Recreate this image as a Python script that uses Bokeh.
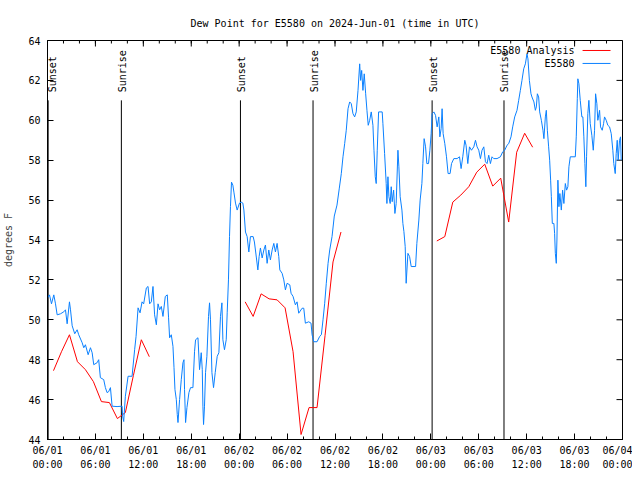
import math
from bokeh.plotting import figure
from bokeh.models import LinearAxis, FixedTicker, Range1d, ColumnDataSource, Label
from bokeh.embed import file_html
from bokeh.resources import INLINE

# ---------------- data (hours since 2024-06-01 00:00 UTC, degrees F) ----------------
obs_hours = [0.0, 0.25, 0.5, 0.79, 1.0, 1.21, 1.62, 2.04, 2.25, 2.46, 2.75, 2.88, 3.09, 3.41, 3.71, 3.91,
             4.34, 4.54, 4.75, 5.09, 5.38, 5.59, 5.79, 6.21, 6.41, 6.62, 7.04, 7.25, 7.46, 7.66, 7.88,
             8.09, 8.71, 9.34, 9.41, 9.54, 9.75, 10.09, 10.59, 10.91, 11.09, 11.34, 11.59, 11.84, 12.04,
             12.38, 12.59, 12.79, 13.0, 13.21, 13.41, 13.63, 13.84, 14.04, 14.25, 14.46, 14.75, 15.0,
             15.16, 15.29, 15.5, 15.71, 15.84, 15.96, 16.13, 16.25, 16.34, 16.54, 16.75, 16.96, 17.09,
             17.16, 17.29, 17.46, 17.71, 17.91, 18.21, 18.41, 18.54, 18.84, 19.04, 19.25, 19.38, 19.46,
             19.54, 19.66, 19.79, 19.96, 20.16, 20.29, 20.41, 20.59, 20.79, 21.0, 21.25, 21.46, 21.66,
             21.84, 21.96, 22.16, 22.38, 22.5, 22.66, 22.79, 22.91, 23.04, 23.21, 23.34, 23.54, 23.75,
             24.04, 24.25, 24.46, 24.59, 24.79, 25.0, 25.21, 25.41, 25.75, 25.91, 26.16, 26.34, 26.5,
             26.66, 26.88, 27.09, 27.29, 27.5, 27.71, 27.91, 28.13, 28.34, 28.54, 28.75, 28.96, 29.09,
             29.38, 29.59, 29.79, 30.0, 30.34, 30.5, 30.75, 31.04, 31.25, 31.46, 31.88, 32.09, 32.29,
             32.71, 33.0, 33.13, 33.34, 33.75, 34.09, 34.29, 34.5, 34.71, 34.91, 35.13, 35.34, 35.63,
             35.91, 36.25, 36.54, 36.79, 37.0, 37.21, 37.41, 37.63, 37.84, 38.04, 38.25, 38.46, 38.66,
             38.88, 39.09, 39.21, 39.34, 39.5, 39.66, 39.84, 40.0, 40.16, 40.34, 40.54, 40.75, 40.88,
             41.04, 41.16, 41.29, 41.46, 41.91, 42.0, 42.21, 42.41, 42.5, 42.63, 42.75, 42.91, 43.04,
             43.16, 43.34, 43.5, 43.66, 43.88, 44.0, 44.16, 44.38, 44.5, 44.63, 44.79, 44.91, 45.13,
             45.34, 45.54, 46.09, 46.25, 46.5, 46.66, 46.88, 47.0, 47.16, 47.34, 47.5, 47.71, 47.88,
             48.04, 48.16, 48.38, 48.59, 48.79, 49.0, 49.13, 49.29, 49.41, 49.54, 49.75, 49.96, 50.16,
             50.41, 50.59, 50.88, 51.29, 51.59, 51.79, 52.0, 52.25, 52.41, 52.63, 52.84, 53.09, 53.38,
             53.59, 53.79, 54.0, 54.21, 54.41, 54.63, 54.84, 55.04, 55.25, 55.46, 55.66, 55.88, 56.29,
             56.71, 57.0, 57.25, 57.54, 57.75, 58.04, 58.25, 58.5, 58.79, 59.0, 59.21, 59.41, 59.63,
             59.84, 60.04, 60.16, 60.34, 60.54, 60.66, 60.91, 61.09, 61.21, 61.34, 61.5, 61.63, 61.84,
             62.04, 62.16, 62.34, 62.46, 62.59, 62.75, 62.88, 63.0, 63.09, 63.21, 63.41, 63.5, 63.59,
             63.71, 63.79, 63.91, 64.04, 64.16, 64.34, 64.5, 64.66, 64.84, 65.0, 65.16, 65.29, 65.46,
             66.09, 66.21, 66.34, 66.41, 66.54, 66.71, 66.91, 67.04, 67.16, 67.29, 67.41, 67.5, 67.66,
             67.79, 67.96, 68.16, 68.34, 68.5, 68.63, 68.79, 68.91, 69.13, 69.25, 69.46, 69.63, 69.75,
             69.96, 70.16, 70.38, 70.59, 70.79, 70.91, 71.09, 71.21, 71.34, 71.46, 71.63, 71.75, 71.84]
obs_dewpt = [51.1, 51.25, 50.8, 51.25, 50.8, 50.25, 50.3, 50.4, 50.5, 49.8, 50.9, 50.5, 49.7, 49.3, 49.5, 49.25,
             48.85, 48.6, 48.75, 48.25, 48.6, 48.35, 47.75, 47.85, 48.0, 47.1, 47.0, 46.6, 46.35, 46.4, 46.6,
             45.67, 45.65, 45.67, 45.17, 44.9, 46.17, 47.17, 47.17, 48.5, 49.17, 50.6, 50.35, 50.9, 50.8,
             51.6, 51.67, 50.8, 50.9, 51.67, 50.25, 49.75, 50.8, 50.5, 50.67, 50.17, 51.17, 51.25,
             50.1, 49.1, 49.25, 48.67, 47.6, 46.5, 46.0, 45.25, 44.85, 46.0, 47.0, 47.85, 48.0,
             46.5, 44.85, 45.6, 46.35, 46.6, 46.6, 48.4, 49.0, 49.1, 47.5, 48.35, 47.5, 45.67,
             44.75, 45.67, 47.35, 48.17, 50.17, 50.85, 50.0, 47.35, 46.6, 47.35, 48.17, 48.35, 50.17,
             50.85, 49.0, 48.5, 49.0, 50.35, 52.0, 54.17, 55.67, 56.9, 56.75, 56.4, 55.85, 55.5,
             55.85, 55.9, 55.85, 55.5, 54.4, 54.17, 53.4, 54.17, 54.17, 53.9, 53.1, 52.5, 53.17,
             53.6, 53.1, 53.5, 53.75, 52.83, 53.5, 53.0, 53.5, 53.83, 53.4, 53.83, 53.17, 52.5,
             52.33, 52.0, 51.5, 51.83, 51.75, 51.33, 51.17, 50.75, 50.9, 50.33, 50.58, 50.58, 49.83,
             49.9, 49.83, 49.25, 48.9, 48.9, 49.17, 49.25, 50.0, 50.83, 51.83, 52.83, 53.5, 54.17,
             55.2, 55.75, 56.6, 57.33, 58.17, 58.83, 59.5, 60.58, 60.92, 60.83, 60.33, 60.17, 60.42,
             61.5, 62.83, 62.0, 62.5, 61.5, 62.33, 61.33, 60.5, 59.75, 60.0, 60.42, 59.75, 58.5,
             57.17, 56.83, 58.5, 60.42, 60.42, 59.83, 58.33, 56.83, 55.83, 57.17, 56.17, 55.83, 56.67,
             55.92, 56.5, 55.33, 55.83, 58.5, 57.67, 56.17, 55.5, 54.83, 54.42, 53.67, 51.83, 53.33,
             53.17, 52.67, 52.67, 53.83, 55.0, 56.0, 56.83, 57.83, 59.08, 58.67, 57.83, 57.83, 58.5,
             59.33, 60.33, 60.42, 60.25, 59.67, 60.17, 59.17, 59.58, 60.58, 59.33, 58.83, 58.17, 57.33,
             57.33, 57.83, 58.08, 58.08, 58.17, 57.58, 58.17, 59.0, 58.75, 57.83, 58.67, 58.5, 58.67,
             59.0, 58.67, 58.5, 58.08, 58.5, 58.67, 57.92, 57.83, 58.25, 57.83, 58.17, 58.08, 58.08,
             58.17, 58.42, 58.5, 58.75, 58.83, 59.17, 59.67, 60.17, 60.5, 61.0, 61.5, 62.0, 62.58,
             62.83, 63.33, 63.08, 62.0, 61.33, 61.17, 60.92, 60.5, 60.67, 61.33, 61.17, 60.42, 60.0,
             59.5, 59.08, 60.17, 60.5, 59.5, 58.67, 58.0, 57.0, 56.17, 54.83, 54.83, 54.33, 53.33,
             52.83, 54.0, 57.0, 55.67, 56.33, 55.5, 56.5, 55.83, 56.83, 56.5, 56.67, 57.67, 58.17,
             58.17, 59.17, 61.08, 62.08, 61.83, 61.0, 60.17, 60.17, 59.17, 57.83, 56.67, 58.17, 60.33,
             61.0, 59.83, 59.25, 58.5, 59.5, 61.33, 60.83, 60.0, 60.5, 59.67, 59.5, 59.83, 60.17,
             60.0, 59.75, 59.67, 59.33, 58.5, 57.83, 57.33, 58.33, 59.0, 58.0, 59.0, 59.17, 58.0]

nan = float("nan")
ana_hours = [0.75, 1.75, 2.75, 3.75, 4.75, 5.75, 6.75, 7.75, 8.75, 9.75, 10.75, 11.75, 12.75, nan,
             24.75, 25.75, 26.75, 27.75, 28.75, 29.75, 30.75, 31.75, 32.75, 33.75, 34.75, 35.75, 36.75, nan,
             48.75, 49.75, 50.75, 51.75, 52.75, 53.75, 54.75, 55.75, 56.75, 57.75, 58.75, 59.75, 60.75]
ana_dewpt = [47.45, 48.4, 49.25, 47.9, 47.5, 46.9, 45.9, 45.85, 45.05, 45.35, 47.2, 49.0, 48.15, nan,
             50.9, 50.17, 51.3, 51.05, 51.0, 50.6, 48.4, 44.25, 45.6, 45.6, 49.2, 52.9, 54.4, nan,
             53.95, 54.17, 55.9, 56.25, 56.67, 57.4, 57.8, 56.7, 57.1, 54.9, 58.4, 59.35, 58.65]

sun_hours = [0.08, 9.25, 24.16, 33.25, 48.16, 57.16]
sun_names = ["Sunset", "Sunrise", "Sunset", "Sunrise", "Sunset", "Sunrise"]

x_tick_hours = [0, 6, 12, 18, 24, 30, 36, 42, 48, 54, 60, 66, 72]
x_tick_labels = ["06/01\n00:00", "06/01\n06:00", "06/01\n12:00", "06/01\n18:00",
                 "06/02\n00:00", "06/02\n06:00", "06/02\n12:00", "06/02\n18:00",
                 "06/03\n00:00", "06/03\n06:00", "06/03\n12:00", "06/03\n18:00", "06/04\n00:00"]
x_minor_hours = list(range(0, 73, 2))
y_ticks = [44, 46, 48, 50, 52, 54, 56, 58, 60, 62, 64]

legend_names = ["E5580 Analysis", "E5580"]
RED = "#ff0000"
BLUE = "#0a80ff"
FONT = "DejaVu Sans Mono"
FS = "10px"

# ---------------- figure ----------------
p = figure(width=632, height=472, output_backend="svg", toolbar_location=None, tools="",
           x_range=Range1d(0, 72), y_range=Range1d(44, 64),
           min_border_left=46, min_border_right=10, min_border_top=40, min_border_bottom=32,
           x_axis_type=None, y_axis_type=None)
p.background_fill_color = "white"
p.border_fill_color = "white"
p.outline_line_color = "black"
p.outline_line_width = 1
p.grid.visible = False

p.title.text = "Dew Point for E5580 on 2024-Jun-01 (time in UTC)"
p.title.align = "center"
p.title.text_font = FONT
p.title.text_font_size = FS
p.title.text_font_style = "normal"
p.title.text_color = "black"
p.title.standoff = 23

def style_axis(ax):
    ax.axis_line_color = "black"
    ax.major_tick_line_color = "black"
    ax.minor_tick_line_color = "black"
    ax.major_tick_in = 6
    ax.major_tick_out = 0
    ax.minor_tick_in = 3
    ax.minor_tick_out = 0
    ax.major_label_text_font = FONT
    ax.major_label_text_color = "black"
    ax.major_label_text_font_size = FS

xb = LinearAxis(ticker=FixedTicker(ticks=x_tick_hours, minor_ticks=x_minor_hours))
style_axis(xb)
xb.major_label_overrides = {h: lab for h, lab in zip(x_tick_hours, x_tick_labels)}
xb.major_label_standoff = 5
xb.major_label_text_line_height = 1.3
p.add_layout(xb, "below")

yl = LinearAxis(ticker=FixedTicker(ticks=y_ticks, minor_ticks=[]), axis_label="degrees F")
style_axis(yl)
yl.major_label_standoff = 7
yl.axis_label_text_font = FONT
yl.axis_label_text_font_size = FS
yl.axis_label_text_font_style = "normal"
yl.axis_label_standoff = 11
p.add_layout(yl, "left")

# mirrored ticks on the top and right edges (inward, like gnuplot)
p.ray(x=x_tick_hours, y=[64] * len(x_tick_hours), length=6, length_units="screen",
      angle=-math.pi / 2, line_color="black", line_width=1)
p.ray(x=x_minor_hours, y=[64] * len(x_minor_hours), length=3, length_units="screen",
      angle=-math.pi / 2, line_color="black", line_width=1)
p.ray(x=[72] * len(y_ticks), y=y_ticks, length=6, length_units="screen",
      angle=math.pi, line_color="black", line_width=1)

# sunrise / sunset markers
sun_src = ColumnDataSource(dict(x=sun_hours, y0=[44] * len(sun_hours), y1=[61] * len(sun_hours)))
p.segment(x0="x", y0="y0", x1="x", y1="y1", source=sun_src, line_color="black", line_width=1)
for i, (sx, name) in enumerate(zip(sun_hours, sun_names)):
    p.add_layout(Label(x=sx, y=61.4, text=name, angle=math.pi / 2, x_offset=4 if i == 0 else 1,
                       text_align="left", text_baseline="middle", text_font=FONT,
                       text_font_size=FS, text_color="black"))

# data
p.line(ana_hours, ana_dewpt, line_color=RED, line_width=1)
p.line(obs_hours, obs_dewpt, line_color=BLUE, line_width=1)

# legend (text right-aligned, sample line to the right, as in gnuplot)
leg_y = [63.5, 62.85]
leg_colors = [RED, BLUE]
for name, ly, col in zip(legend_names, leg_y, leg_colors):
    p.add_layout(Label(x=66.0, y=ly, text=name, text_align="right", text_baseline="middle",
                       text_font=FONT, text_font_size=FS, text_color="black"))
p.segment(x0=[67.0, 67.0], y0=leg_y, x1=[70.5, 70.5], y1=leg_y, line_color=leg_colors, line_width=1)

open("out.html", "w").write(file_html(p, INLINE))
